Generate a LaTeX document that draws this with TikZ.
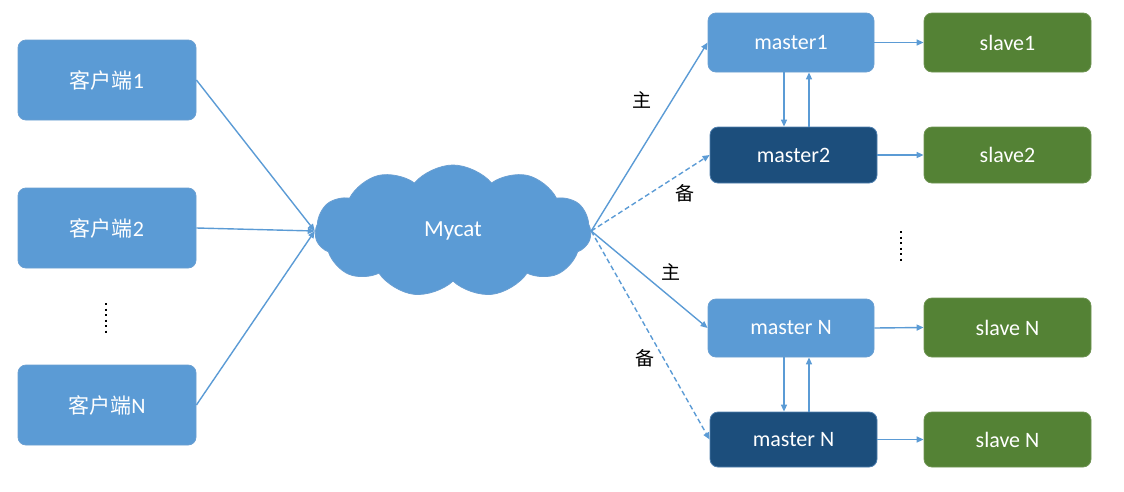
\documentclass[tikz,border=0pt]{standalone}
\usepackage{fontspec}
\setmainfont{Carlito}
\newfontfamily\cjk{Noto Sans CJK SC}
\usetikzlibrary{shapes.symbols,arrows.meta}
\definecolor{lb}{HTML}{5B9BD5}
\definecolor{lbd}{HTML}{6A9FD2}
\definecolor{db}{HTML}{1C4E7C}
\definecolor{dbd}{HTML}{4F7FAE}
\definecolor{gr}{HTML}{548235}
\definecolor{grd}{HTML}{6E9452}
\definecolor{ln}{HTML}{5B9BD5}
\tikzset{
  box/.style={rounded corners=8pt, line width=0.8pt, text=white, font=\fontsize{22}{26}\selectfont, inner sep=0pt},
  lbox/.style={box, fill=lb, draw=lbd},
  dbox/.style={box, fill=db, draw=dbd},
  gbox/.style={box, fill=gr, draw=grd},
  arr/.style={draw=ln, line width=1.4pt, -{Triangle[length=7pt,width=6pt]}},
  darr/.style={arr, dash pattern=on 5pt off 3pt},
  lab/.style={font=\cjk\fontsize{19}{22}\selectfont, text=black, inner sep=0pt},
  vdots/.style={line width=2pt, dash pattern=on 2pt off 3.5pt},
}
\begin{document}
\begin{tikzpicture}[x=1pt,y=-1pt]
\useasboundingbox (0,0) rectangle (1124,491);
% clients
\node[lbox, minimum width=178pt, minimum height=80pt] (c1) at (107,80) {{\cjk\fontsize{21}{24}\selectfont 客户端}1};
\node[lbox, minimum width=178pt, minimum height=80pt] (c2) at (107,228) {{\cjk\fontsize{21}{24}\selectfont 客户端}2};
\node[lbox, minimum width=178pt, minimum height=80pt] (cN) at (107,405) {{\cjk\fontsize{21}{24}\selectfont 客户端}N};
\draw[vdots] (106,303) -- (106,334);
% cloud
\node[cloud, cloud puffs=11, cloud puff arc=100, aspect=2.2, fill=lb, draw=lbd, line width=0.8pt,
      minimum width=276pt, minimum height=132pt, inner sep=0pt, text=white,
      font=\fontsize{23}{26}\selectfont] (my) at (453,231) {Mycat};
% masters
\node[lbox, minimum width=166pt, minimum height=59pt] (m1) at (791,42.5) {master1};
\node[dbox, minimum width=167pt, minimum height=56pt] (m2) at (793.5,155) {master2};
\node[lbox, minimum width=166pt, minimum height=58pt] (mN) at (791,328) {master N};
\node[dbox, minimum width=167pt, minimum height=55pt] (mN2) at (793.5,439.5) {master N};
% slaves
\node[gbox, minimum width=167pt, minimum height=59pt] (s1) at (1007.5,42.5) {slave1};
\node[gbox, minimum width=167pt, minimum height=56pt] (s2) at (1007.5,155) {slave2};
\node[gbox, minimum width=167pt, minimum height=59pt] (sN) at (1007.5,327.5) {slave N};
\node[gbox, minimum width=167pt, minimum height=55pt] (sN2) at (1007.5,439.5) {slave N};
\draw[vdots] (901,231) -- (901,261);
% labels
\node[lab] (l1) at (642,100) {主};
\node[lab] (l2) at (685,193) {备};
\node[lab] (l3) at (671,272) {主};
\node[lab] (l4) at (645,358) {备};
% client arrows
\draw[arr] (c1.east) -- (my.west);
\draw[arr] (c2.east) -- (my.west);
\draw[arr] (cN.east) -- (my.west);
% cloud to masters
\draw[arr] (my.east) -- (m1.west);
\draw[darr] (my.east) -- (m2.west);
\draw[arr] (my.east) -- (mN.west);
\draw[darr] (my.east) -- (mN2.west);
% master pairs
\draw[arr] ([xshift=-7pt]m1.south) -- ([xshift=-7pt]m1.south |- m2.north);
\draw[arr] ([xshift=18pt]m1.south |- m2.north) -- ([xshift=18pt]m1.south);
\draw[arr] ([xshift=-7pt]mN.south) -- ([xshift=-7pt]mN.south |- mN2.north);
\draw[arr] ([xshift=18pt]mN.south |- mN2.north) -- ([xshift=18pt]mN.south);
% master to slave
\draw[arr] (m1.east) -- (s1.west);
\draw[arr] (m2.east) -- (s2.west);
\draw[arr] (mN.east) -- (sN.west);
\draw[arr] (mN2.east) -- (sN2.west);
\end{tikzpicture}
\end{document}
